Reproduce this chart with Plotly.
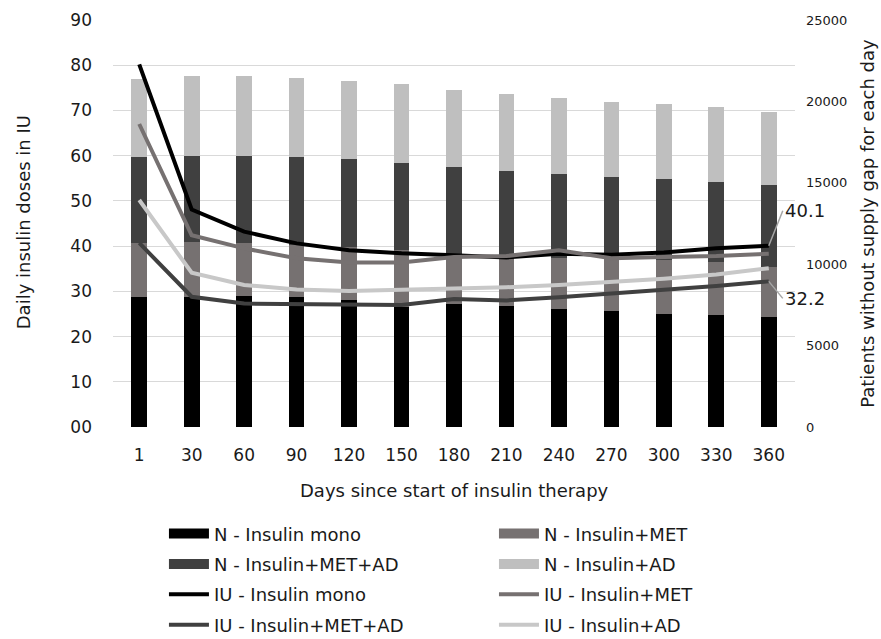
import plotly.graph_objects as go

# ---------------- data ----------------
days = ["1", "30", "60", "90", "120", "150", "180", "210", "240", "270", "300", "330", "360"]

# Patients without supply gap (right axis, stacked segments)
n_mono = [7990, 7990, 8030, 7990, 7790, 7400, 7540, 7430, 7230, 7110, 6970, 6870, 6760]
n_met = [3320, 3380, 3280, 3220, 3290, 3460, 3060, 3020, 3170, 3240, 3280, 3270, 3080]
n_met_ad = [5290, 5270, 5330, 5350, 5370, 5330, 5380, 5290, 5130, 5020, 5000, 4920, 5040]
n_ad = [4780, 4920, 4920, 4880, 4810, 4860, 4730, 4690, 4650, 4590, 4570, 4570, 4470]

# Daily insulin doses in IU (left axis)
iu_mono = [80.2, 48.1, 43.2, 40.6, 39.1, 38.4, 38.0, 37.5, 38.3, 38.1, 38.6, 39.5, 40.1]
iu_met = [67.0, 42.4, 39.5, 37.3, 36.4, 36.4, 37.6, 37.8, 39.1, 37.3, 37.6, 37.8, 38.3]
iu_met_ad = [40.7, 28.8, 27.3, 27.2, 26.9, 27.0, 28.3, 28.0, 28.7, 29.5, 30.2, 31.2, 32.2]
iu_ad = [50.2, 34.1, 31.4, 30.4, 30.1, 30.3, 30.7, 30.9, 31.4, 32.0, 32.8, 33.7, 35.1]

left_ticks = [0, 10, 20, 30, 40, 50, 60, 70, 80, 90]
left_ticktext = ["00", "10", "20", "30", "40", "50", "60", "70", "80", "90"]
right_ticks = [0, 5000, 10000, 15000, 20000, 25000]
right_ticktext = ["0", "5000", "10000", "15000", "20000", "25000"]

# ---------------- style ----------------
FONT = "DejaVu Sans"
TXT = "#1a1a1a"
C_MONO = "#000000"
C_MET = "#767171"
C_METAD = "#404040"
C_AD = "#bfbfbf"
C_AD_LINE = "#c8c8c8"

fig = go.Figure()

bars = [
    ("N - Insulin mono", n_mono, C_MONO, "legend"),
    ("N - Insulin+MET", n_met, C_MET, "legend2"),
    ("N - Insulin+MET+AD", n_met_ad, C_METAD, "legend"),
    ("N - Insulin+AD", n_ad, C_AD, "legend2"),
]
for name, vals, col, lg in bars:
    fig.add_trace(go.Bar(x=days, y=vals, name=name, marker=dict(color=col, line=dict(width=0)),
                         yaxis="y", showlegend=False, hoverinfo="skip"))

# legend proxies for bars (wide rectangle symbol)
for i, (name, vals, col, lg) in enumerate(bars):
    fig.add_trace(go.Scatter(x=[None], y=[None], mode="lines", name=name,
                             line=dict(color=col, width=10), legend=lg,
                             legendgroup="g%d" % i, yaxis="y"))

lines = [
    ("IU - Insulin mono", iu_mono, C_MONO, "legend"),
    ("IU - Insulin+MET", iu_met, C_MET, "legend2"),
    ("IU - Insulin+MET+AD", iu_met_ad, C_METAD, "legend"),
    ("IU - Insulin+AD", iu_ad, C_AD_LINE, "legend2"),
]
for i, (name, vals, col, lg) in enumerate(lines):
    fig.add_trace(go.Scatter(x=days, y=vals, mode="lines", name=name,
                             line=dict(color=col, width=4), yaxis="y2",
                             legend=lg, legendgroup="h%d" % i))

last = len(days) - 1
# data labels for last points
fig.add_annotation(x=last, y=iu_mono[-1], xref="x", yref="y2",
                   text=f"{iu_mono[-1]:.1f}", showarrow=True, arrowhead=0,
                   arrowwidth=1.5, arrowcolor="#a6a6a6", ax=14, ay=-35,
                   xanchor="left", yanchor="middle",
                   font=dict(family=FONT, size=18, color=TXT))
fig.add_annotation(x=last, y=iu_met_ad[-1], xref="x", yref="y2",
                   text=f"{iu_met_ad[-1]:.1f}", showarrow=True, arrowhead=0,
                   arrowwidth=1.5, arrowcolor="#a6a6a6", ax=14, ay=17,
                   xanchor="left", yanchor="middle",
                   font=dict(family=FONT, size=18, color=TXT))

# axis titles
fig.add_annotation(text="Daily insulin doses in IU", xref="paper", yref="paper",
                   x=-0.132, y=0.503, textangle=-90, showarrow=False,
                   xanchor="center", yanchor="middle",
                   font=dict(family=FONT, size=18, color=TXT))
fig.add_annotation(text="Patients without supply gap for each day", xref="paper", yref="paper",
                   x=1.106, y=0.5, textangle=-90, showarrow=False,
                   xanchor="center", yanchor="middle",
                   font=dict(family=FONT, size=18, color=TXT))
fig.add_annotation(text="Days since start of insulin therapy", xref="paper", yref="paper",
                   x=0.5, y=-0.1557, showarrow=False, xanchor="center", yanchor="middle",
                   font=dict(family=FONT, size=18, color=TXT))

legend_common = dict(orientation="v", traceorder="grouped", tracegroupgap=4,
                     font=dict(family=FONT, size=18, color=TXT),
                     bgcolor="rgba(0,0,0,0)", borderwidth=0, itemwidth=40,
                     xanchor="left", yanchor="top", itemclick=False, itemdoubleclick=False)

fig.update_layout(
    width=881, height=639,
    margin=dict(l=113, r=86, t=20, b=212, autoexpand=False),
    paper_bgcolor="white", plot_bgcolor="white",
    font=dict(family=FONT, size=17, color=TXT),
    barmode="stack", bargap=0.7,
    xaxis=dict(type="category", categoryorder="array", categoryarray=days,
               range=[-0.5, len(days) - 0.5], automargin=False,
               showgrid=False, showline=False, zeroline=False, ticks="",
               tickfont=dict(family=FONT, size=17, color=TXT), ticklabelstandoff=16),
    yaxis=dict(side="right", range=[0, 25000], tickvals=right_ticks, ticktext=right_ticktext,
               showgrid=False, zeroline=False, showline=False, ticks="", automargin=False,
               tickfont=dict(family=FONT, size=13, color=TXT), ticklabelstandoff=10),
    yaxis2=dict(overlaying="y", side="left", range=[0, 90], tickvals=left_ticks,
                ticktext=left_ticktext, showgrid=True, gridcolor="#d9d9d9", gridwidth=1.3,
                zeroline=False, showline=False, ticks="", automargin=False,
                tickfont=dict(family=FONT, size=17, color=TXT), ticklabelstandoff=20),
    legend=dict(x=0.0747, y=-0.217, **legend_common),
    legend2=dict(x=0.5586, y=-0.217, **legend_common),
    showlegend=True,
)

fig.write_html("out.html", config={"displayModeBar": False},
               post_script="document.body.style.margin='0';document.body.style.overflow='hidden';")
